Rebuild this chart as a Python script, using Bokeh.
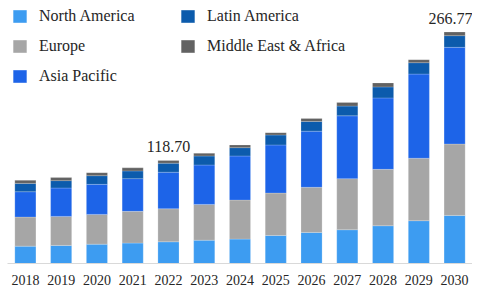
from bokeh.plotting import figure
from bokeh.models import ColumnDataSource, FactorRange, Range1d, Legend, LegendItem
from bokeh.core.properties import value
from bokeh.embed import file_html
from bokeh.resources import INLINE

years = ["2018", "2019", "2020", "2021", "2022", "2023", "2024",
         "2025", "2026", "2027", "2028", "2029", "2030"]
north_america = [20.0, 20.8, 22.3, 23.5, 25.0, 26.9, 28.1, 32.3, 35.8, 38.9, 43.5, 49.3, 55.4]
europe = [33.5, 33.5, 34.3, 36.6, 38.1, 41.2, 45.0, 48.9, 52.0, 58.9, 65.0, 72.0, 82.3]
asia_pacific = [29.2, 32.7, 34.6, 37.7, 42.1, 45.4, 50.8, 55.4, 64.7, 72.4, 82.3, 97.0, 111.4]
latin_america = [9.6, 8.5, 10.0, 8.9, 10.4, 10.4, 9.6, 11.5, 11.2, 11.2, 12.7, 13.1, 13.47]
mea = [3.5, 3.5, 3.5, 3.5, 3.1, 3.1, 3.1, 2.7, 3.5, 4.2, 4.6, 3.5, 4.2]

label_years = ["2022", "2030"]
label_texts = ["118.70", "266.77"]

series = ["North America", "Europe", "Asia Pacific", "Latin America", "Middle East & Africa"]
colors = ["#3D9CF1", "#A6A6A6", "#1D64E8", "#0C5BAC", "#626262"]

FONT = "'Liberation Serif', 'Times New Roman', serif"

totals = [sum(v) for v in zip(north_america, europe, asia_pacific, latin_america, mea)]

src = ColumnDataSource(dict(
    year=years,
    **{"North America": north_america, "Europe": europe, "Asia Pacific": asia_pacific,
       "Latin America": latin_america, "Middle East & Africa": mea}
))

p = figure(width=472, height=292, x_range=FactorRange(*years, range_padding=0),
           y_range=Range1d(0, 295), output_backend="svg", toolbar_location=None,
           min_border_left=7, min_border_right=0, min_border_top=7, min_border_bottom=29)

renderers = p.vbar_stack(series, x="year", width=0.59, source=src, color=colors,
                         line_color="white", line_width=0.5, line_alpha=0.4)

lab_tot = [totals[years.index(y)] for y in label_years]
lsrc = ColumnDataSource(dict(x=label_years, y=lab_tot, t=label_texts, xo=[0, -4]))
p.text(x="x", y="y", text="t", source=lsrc, text_align="center", text_baseline="bottom",
       y_offset=-8, x_offset="xo", text_font=value(FONT),
       text_font_size="16px", text_color="#262626")

p.yaxis.visible = False
p.xgrid.grid_line_color = None
p.ygrid.grid_line_color = None
p.outline_line_color = None
p.xaxis.axis_line_color = "#D9D9D9"
p.xaxis.major_tick_line_color = None
p.xaxis.minor_tick_line_color = None
p.xaxis.major_label_text_font = FONT
p.xaxis.major_label_text_font_size = "14px"
p.xaxis.major_label_text_color = "#262626"
p.xaxis.major_label_standoff = 5

def make_legend(idx, loc):
    lg = Legend(items=[LegendItem(label=series[i], renderers=[renderers[i]]) for i in idx],
                location=loc, orientation="vertical")
    lg.label_text_font = FONT
    lg.label_text_font_size = "16px"
    lg.label_text_color = "#262626"
    lg.glyph_width = 17
    lg.glyph_height = 16
    lg.label_height = 16
    lg.label_standoff = 11
    lg.spacing = 12
    lg.padding = 0
    lg.margin = 0
    lg.border_line_color = None
    lg.background_fill_alpha = 0
    return lg

p.add_layout(make_legend([0, 1, 2], (4, 178)), "center")
p.add_layout(make_legend([3, 4], (172, 208)), "center")

open("out.html", "w").write(file_html(p, INLINE))
